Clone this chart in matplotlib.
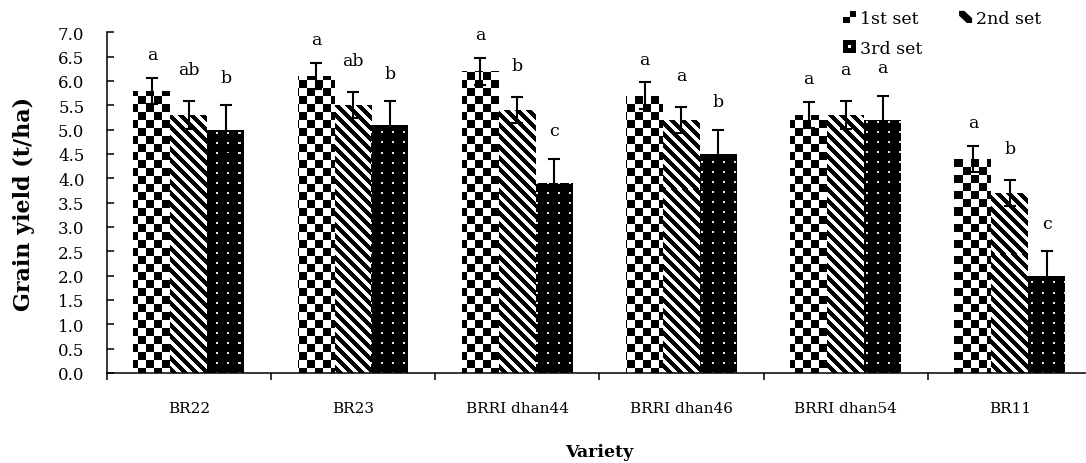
import numpy as np
import matplotlib.pyplot as plt
from matplotlib.patches import Rectangle, Polygon, Patch
from matplotlib.legend_handler import HandlerBase

plt.rcParams['font.family'] = 'DejaVu Serif'

varieties = ['BR22', 'BR23', 'BRRI dhan44', 'BRRI dhan46', 'BRRI dhan54', 'BR11']
set_names = ['1st set', '2nd set', '3rd set']

yield_1st = [5.8, 6.1, 6.2, 5.7, 5.3, 4.4]
yield_2nd = [5.3, 5.5, 5.4, 5.2, 5.3, 3.7]
yield_3rd = [5.0, 5.1, 3.9, 4.5, 5.2, 2.0]

err_1st = [0.27, 0.27, 0.28, 0.27, 0.27, 0.27]
err_2nd = [0.28, 0.27, 0.27, 0.27, 0.28, 0.27]
err_3rd = [0.5, 0.48, 0.5, 0.5, 0.5, 0.5]

letters_1st = ['a', 'a', 'a', 'a', 'a', 'a']
letters_2nd = ['ab', 'ab', 'b', 'a', 'a', 'b']
letters_3rd = ['b', 'b', 'c', 'b', 'a', 'c']

YMAX = 7.0
BAR_W = 0.225


def texture(kind, h, w):
    # 0 = black, 1 = white, in screen pixels
    i, j = np.mgrid[0:h, 0:w]
    if kind == 'checker':
        t = ((i // 8 + j // 8) % 2).astype(float)
    elif kind == 'stripes':
        t = (((j - i) % 11) >= 5.5).astype(float)
    else:
        t = np.zeros((h, w))
        t[(i % 10 < 2) & (j % 11 < 2)] = 0.9
    return t


class TextureHandler(HandlerBase):
    def __init__(self, kind):
        super().__init__()
        self.kind = kind

    def create_artists(self, legend, orig_handle, xdescent, ydescent,
                       width, height, fontsize, trans):
        x0, y0, w, h = -xdescent, -ydescent, width, height
        if self.kind == 'checker':
            arts = [Rectangle((x0, y0), w, h, fc='white', ec='none'),
                    Rectangle((x0, y0), w / 2, h / 2, fc='black', ec='none'),
                    Rectangle((x0 + w / 2, y0 + h / 2), w / 2, h / 2, fc='black', ec='none')]
        elif self.kind == 'stripes':
            arts = [Rectangle((x0, y0), w, h, fc='white', ec='none'),
                    Polygon([(x0, y0 + h), (x0 + 0.4 * w, y0 + h), (x0 + w, y0 + 0.4 * h),
                             (x0 + w, y0), (x0 + 0.6 * w, y0), (x0, y0 + 0.6 * h)],
                            closed=True, fc='black', ec='none')]
        else:
            arts = [Rectangle((x0, y0), w, h, fc='black', ec='none'),
                    Rectangle((x0 + 0.4 * w, y0 + 0.4 * h), 0.2 * w, 0.2 * h, fc='white', ec='none')]
        for a in arts:
            a.set_transform(trans)
        return arts


fig = plt.figure(figsize=(10.86, 4.64), dpi=100)
ax = fig.add_axes([106.7 / 1086, 90 / 464, 985.3 / 1086, 340.7 / 464])

x = np.arange(len(varieties))
xlim = (-0.5, len(varieties) - 0.5)
px_w = int(round(985.3))
px_h = int(round(340.7))

series = [(yield_1st, err_1st, letters_1st, 'checker', 0.48),
          (yield_2nd, err_2nd, letters_2nd, 'stripes', 0.65),
          (yield_3rd, err_3rd, letters_3rd, 'dots', 0.58)]

for k, (vals, errs, labs, kind, off) in enumerate(series):
    xs = x + (k - 1) * BAR_W
    bars = ax.bar(xs, vals, BAR_W, color='white', linewidth=0, zorder=1)
    tex = texture(kind, px_h, px_w)
    for rect in bars:
        im = ax.imshow(tex, cmap='gray', vmin=0, vmax=1, extent=(xlim[0], xlim[1], 0, YMAX),
                       aspect='auto', interpolation='nearest', zorder=2)
        im.set_clip_path(rect)
    ax.errorbar(xs, vals, yerr=errs, fmt='none', ecolor='black', elinewidth=1.5,
                capsize=4, capthick=1.5, zorder=3)
    for xx, v, e, lab in zip(xs, vals, errs, labs):
        ax.text(xx, v + e + off, lab, ha='center', va='center', fontsize=12.5)

ax.set_xlim(*xlim)
ax.set_ylim(0, YMAX)

ax.set_xticks(np.arange(xlim[0], xlim[1] + 0.01, 1.0))
ax.set_xticks(x, varieties, minor=True)
ax.tick_params(axis='x', which='major', direction='out', length=5, width=1.1, labelbottom=False)
ax.tick_params(axis='x', which='minor', length=0, pad=20, labelsize=11)

yt = np.arange(0, YMAX + 0.01, 0.5)
ax.set_yticks(yt, [f'{v:.1f}' for v in yt])
ax.tick_params(axis='y', direction='in', length=5, width=1.1, pad=16, labelsize=12)

for s in ['top', 'right']:
    ax.spines[s].set_visible(False)
for s in ['left', 'bottom']:
    ax.spines[s].set_linewidth(1.1)

ax.set_ylabel('Grain yield (t/ha)', fontsize=16, fontweight='bold')
ax.yaxis.set_label_coords(-0.073, 0.5)
ax.set_xlabel('Variety', fontsize=12.5, fontweight='bold')
ax.xaxis.set_label_coords(0.5, -0.205)

h1, h2, h3 = Patch(), Patch(), Patch()
fig.legend([h1, h3, h2], [set_names[0], set_names[2], set_names[1]],
           handler_map={h1: TextureHandler('checker'), h2: TextureHandler('stripes'),
                        h3: TextureHandler('dots')},
           ncol=2, loc='upper left', bbox_to_anchor=(843 / 1086, 1 - 11 / 464),
           frameon=False, borderpad=0, borderaxespad=0, handlelength=0.75,
           handleheight=0.7, handletextpad=0.25, columnspacing=2.1,
           labelspacing=0.72, fontsize=12.5)

fig.savefig('out.png', dpi=100)
